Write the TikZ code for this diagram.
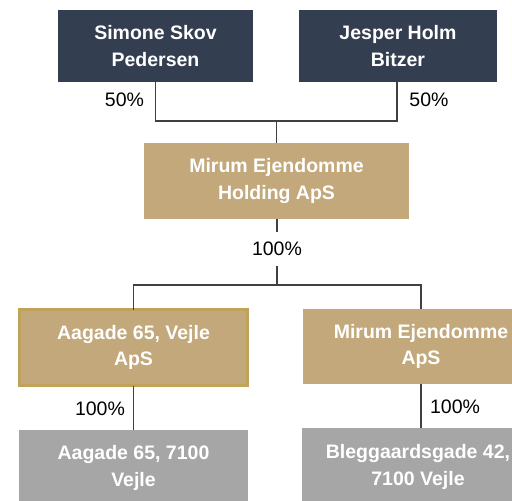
\documentclass[tikz,border=0pt]{standalone}
\usepackage{fontspec}
\setmainfont{Liberation Sans}
\definecolor{navy}{RGB}{52,62,81}
\definecolor{gold}{RGB}{194,168,123}
\definecolor{goldedge}{RGB}{190,163,88}
\definecolor{greybox}{RGB}{166,166,166}
\definecolor{conn}{RGB}{64,64,64}
\begin{document}
\begin{tikzpicture}[x=1pt,y=-1pt,
  box/.style={rectangle,inner sep=0pt,outer sep=0pt,align=center,text=white,
    font=\fontsize{19.5}{26.5}\selectfont\bfseries},
  person/.style={box,fill=navy},
  company/.style={box,fill=gold},
  property/.style={box,fill=greybox},
  pct/.style={inner sep=0pt,outer sep=0pt,font=\fontsize{19.5}{24}\selectfont,text=black},
  link/.style={draw=conn,line width=1.6pt}]
\useasboundingbox (0,0) rectangle (512,501);
\clip (0,0) rectangle (512,501);
\node[person,minimum width=195,minimum height=72] (simone) at (155.5,46) {Simone Skov\\Pedersen};
\node[person,minimum width=198,minimum height=72] (jesper) at (398,46) {Jesper Holm\\Bitzer};
\node[company,minimum width=265,minimum height=76] (holding) at (276.5,181) {Mirum Ejendomme\\Holding ApS};
\node[company,draw=goldedge,line width=3pt,minimum width=228,minimum height=76] (aagade) at (133.5,347.5) {Aagade 65, Vejle\\ApS};
\node[company,minimum width=236,minimum height=75] (mirumaps) at (421,346.5) {Mirum Ejendomme\\ApS};
\node[property,minimum width=229,minimum height=76] (aprop) at (133.5,468) {Aagade 65, 7100\\Vejle};
\node[property,minimum width=232,minimum height=78] (bleg) at (418,467) {Bleggaardsgade 42,\\7100 Vejle};

\coordinate (jn) at (276.5,121);
\coordinate (hn) at (277,285);
\node[pct] at (124.5,100) (l50) {50\%};
\node[pct] at (429,100) (r50) {50\%};
\node[pct,minimum height=34] at (277,249) (p100) {100\%};
\node[pct] at (100,409) (pa) {100\%};
\node[pct] at (455,407) (pb) {100\%};

\draw[link] (simone.south) |- (jn);
\draw[link] (jesper.south -| 397,0) |- (jn);
\draw[link] (jn) -- (holding.north);
\draw[link] (holding.south -| hn) -- (p100.north);
\draw[link] (p100.south) -- (hn);
\draw[link] (hn) -| (aagade.north);
\draw[link] (hn) -| (mirumaps.north);
\draw[link] (aagade.south) -- (aprop.north);
\draw[link] (mirumaps.south) -- (mirumaps.south |- bleg.north);
\end{tikzpicture}
\end{document}
